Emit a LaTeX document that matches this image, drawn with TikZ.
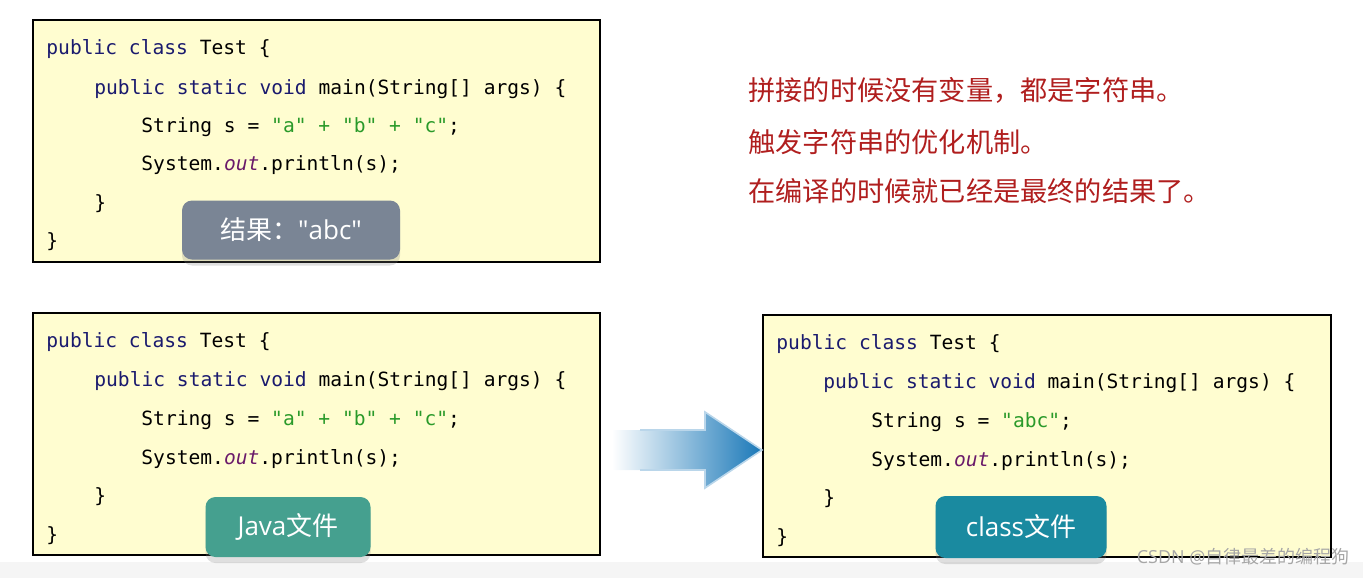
\documentclass[tikz,border=0pt]{standalone}
\usepackage{fontspec}
\setmonofont{DejaVu Sans Mono}
\setsansfont{Open Sans}
\newfontfamily\cjk{Noto Sans CJK SC}
\usetikzlibrary{shadows}
\definecolor{codebg}{HTML}{FFFDD0}
\definecolor{kw}{HTML}{1A1A6E}
\definecolor{str}{HTML}{2A9A2A}
\definecolor{fld}{HTML}{6A1A6A}
\definecolor{redt}{HTML}{B01E1E}
\definecolor{grayl}{HTML}{7A8595}
\definecolor{javal}{HTML}{45A08F}
\definecolor{classl}{HTML}{1A8AA0}
\definecolor{arrowb}{HTML}{1A78B8}
\begin{document}
\begin{tikzpicture}[x=0.5pt,y=-0.5pt,
  codebox/.style={draw=black,line width=0.9pt,fill=codebg},
  code/.style={anchor=west,inner sep=0pt,font=\ttfamily\fontsize{9.8}{12}\selectfont},
  lbl/.style={rounded corners=5pt,text=white,font=\cjk\fontsize{13}{15}\selectfont,inner sep=0pt,
    drop shadow={shadow xshift=0pt,shadow yshift=-3pt,opacity=0.25}},
  red/.style={anchor=west,inner sep=0pt,text=redt,font=\cjk\fontsize{13.6}{16}\selectfont}]
\useasboundingbox (0,0) rectangle (1363,578);
\fill[gray!8] (0,562) rectangle (1363,578);
% box 1
\draw[codebox] (33,20) rectangle (600,262);
\node[code] (a1) at (46,49) {\textcolor{kw}{public class} Test \{};
\node[code] (a2) at (94,89) {\textcolor{kw}{public static void} main(String[] args) \{};
\node[code] (a3) at (141,127) {String s = \textcolor{str}{"a" + "b" + "c"};};
\node[code] (a4) at (141,165) {System.\textcolor{fld}{\itshape out}.println(s);};
\node[code] (a5) at (94,204) {\}};
\node[code] (a6) at (46,242) {\}};
\node[lbl,fill=grayl,minimum width=109pt,minimum height=29.5pt] (r1) at (291,230) {结果：\textsf{\textquotedbl abc\textquotedbl}};
% box 2
\draw[codebox] (33,313) rectangle (600,555);
\node[code] (b1) at (46,342) {\textcolor{kw}{public class} Test \{};
\node[code] (b2) at (94,381) {\textcolor{kw}{public static void} main(String[] args) \{};
\node[code] (b3) at (141,420) {String s = \textcolor{str}{"a" + "b" + "c"};};
\node[code] (b4) at (141,459) {System.\textcolor{fld}{\itshape out}.println(s);};
\node[code] (b5) at (94,497) {\}};
\node[code] (b6) at (46,536) {\}};
\node[lbl,fill=javal,minimum width=82.5pt,minimum height=30pt] (jl) at (288,527) {\textsf{Java}文件};
% box 3
\draw[codebox] (763,315) rectangle (1331,557);
\node[code] (c1) at (776,344) {\textcolor{kw}{public class} Test \{};
\node[code] (c2) at (823,383) {\textcolor{kw}{public static void} main(String[] args) \{};
\node[code] (c3) at (871,422) {String s = \textcolor{str}{"abc"};};
\node[code] (c4) at (871,461) {System.\textcolor{fld}{\itshape out}.println(s);};
\node[code] (c5) at (823,499) {\}};
\node[code] (c6) at (776,538) {\}};
\node[lbl,fill=classl,minimum width=85.5pt,minimum height=31pt] (cl) at (1021,527) {\textsf{class}文件};
% arrow
\coordinate (as) at (612,450);
\coordinate (ae) at (762,450);
\shade[left color=white,right color=arrowb]
  (612,430) -- (705,430) -- (705,412) -- (ae) -- (705,488) -- (705,470) -- (612,470) -- cycle;
\draw[arrowb!30,line width=0.8pt] (640,430) -- (705,430) -- (705,412) -- (ae) -- (705,488) -- (705,470) -- (640,470);
% red text
\node[red] (t1) at (748,90) {拼接的时候没有变量，都是字符串。};
\node[red] (t2) at (748,142) {触发字符串的优化机制。};
\node[red] (t3) at (748,191) {在编译的时候就已经是最终的结果了。};
% watermark
\node[anchor=east,inner sep=0pt,text=gray!70,font=\cjk\fontsize{9}{10}\selectfont] (wm) at (1350,557) {\textsf{CSDN @}自律最差的编程狗};
\end{tikzpicture}
\end{document}
